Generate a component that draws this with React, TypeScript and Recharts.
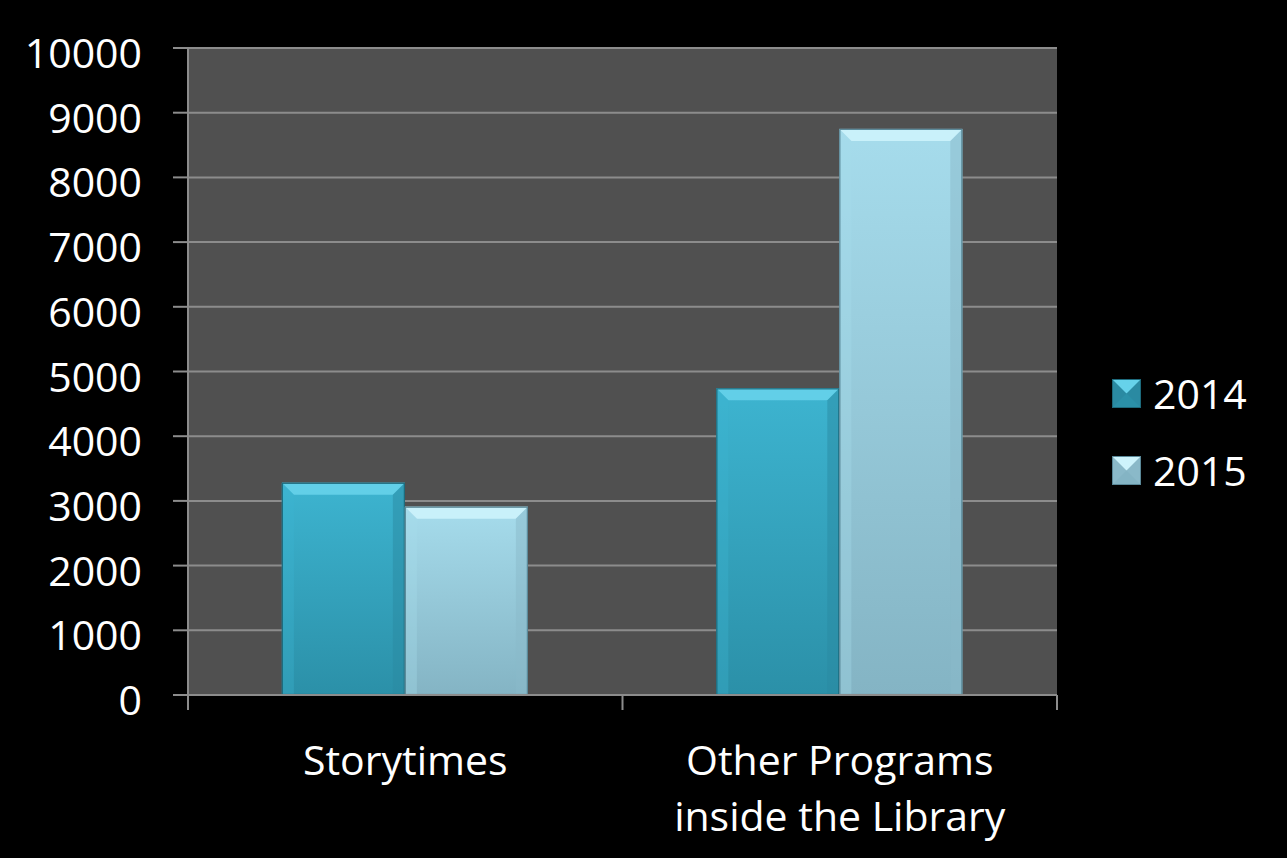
import React from "react"
import { BarChart, Bar, XAxis, YAxis, CartesianGrid, Legend } from "recharts"

const categories = ["Storytimes", "Other Programs\ninside the Library"]
const series2014 = [3280, 4740]
const series2015 = [2910, 8750]
const yTicks = [0, 1000, 2000, 3000, 4000, 5000, 6000, 7000, 8000, 9000, 10000]
const seriesNames = ["2014", "2015"]

const W = 1287
const H = 858
const MARGIN = { top: 48, right: 230, bottom: 33, left: 0 }
const Y_AXIS_W = 188
const PLOT_W = W - MARGIN.left - MARGIN.right - Y_AXIS_W
const FONT = "'Open Sans', sans-serif"
const AXIS_GRAY = "#8c8c8c"

const palette: Record<string, { top: string; bottom: string; bevel: string; edge: string; dark: string }> = {
  "2014": { top: "#3db4d0", bottom: "#2b90a8", bevel: "#66d2ea", edge: "#1d6a7c", dark: "#2a8aa2" },
  "2015": { top: "#a6dcec", bottom: "#84b4c4", bevel: "#cdf3fc", edge: "#5a8898", dark: "#8ab9c9" },
}

const data = categories.map((name, i) => ({
  name,
  "2014": series2014[i],
  "2015": series2015[i],
}))

function BevelBar(props: any) {
  const { x, y, width, height, dataKey } = props
  if (!height || height <= 0) return null
  const c = palette[dataKey]
  const b = Math.min(12, width / 4, height / 2)
  return (
    <g>
      <rect x={x} y={y} width={width} height={height} fill={`url(#grad${dataKey})`} />
      <polygon points={`${x},${y} ${x + width},${y} ${x + width - b},${y + b} ${x + b},${y + b}`} fill={c.bevel} opacity={0.9} />
      <polygon points={`${x},${y} ${x + b},${y + b} ${x + b},${y + height} ${x},${y + height}`} fill={c.top} opacity={0.35} />
      <polygon points={`${x + width},${y} ${x + width - b},${y + b} ${x + width - b},${y + height} ${x + width},${y + height}`} fill={c.dark} opacity={0.5} />
      <rect x={x + 0.5} y={y + 0.5} width={width - 1} height={height - 1} fill="none" stroke={c.edge} strokeWidth={1.2} />
    </g>
  )
}

function XTick(props: any) {
  const { x, y, payload, index } = props
  const half = PLOT_W / categories.length / 2
  const lines = String(payload.value).split("\n")
  return (
    <g>
      <line x1={x - half} y1={y} x2={x - half} y2={y + 15} stroke={AXIS_GRAY} strokeWidth={2} />
      {index === categories.length - 1 && (
        <line x1={x + half} y1={y} x2={x + half} y2={y + 15} stroke={AXIS_GRAY} strokeWidth={2} />
      )}
      {lines.map((l, i) => (
        <text key={i} x={x} y={y + 80 + i * 56} textAnchor="middle" fill="#ffffff" fontSize={41} fontFamily={FONT}>
          {l}
        </text>
      ))}
    </g>
  )
}

function YTick(props: any) {
  const { x, y, payload } = props
  return (
    <text x={x} y={y + 20} textAnchor="end" fill="#ffffff" fontSize={41} fontFamily={FONT}>
      {payload.value}
    </text>
  )
}

function LegendContent() {
  return (
    <div style={{ fontFamily: FONT }}>
      {seriesNames.map((s) => {
        const c = palette[s]
        return (
          <div key={s} style={{ display: "flex", alignItems: "center", height: 77 }}>
            <svg width={29} height={29} style={{ marginRight: 12 }}>
              <rect x={0} y={0} width={29} height={29} fill={c.dark} />
              <polygon points="0,0 29,0 14.5,14.5" fill={c.bevel} />
              <polygon points="0,29 29,29 14.5,14.5" fill={c.bottom} />
              <rect x={0.5} y={0.5} width={28} height={28} fill="none" stroke={c.edge} />
            </svg>
            <span style={{ color: "#ffffff", fontSize: 41, lineHeight: "41px" }}>{s}</span>
          </div>
        )
      })}
    </div>
  )
}

export default function App() {
  return (
    <div style={{ position: "fixed", left: 0, top: 0, width: W, height: H, background: "#000000" }}>
      <BarChart width={W} height={H} data={data} margin={MARGIN} barCategoryGap="21.6%" barGap={0}>
        <defs>
          {seriesNames.map((s) => (
            <linearGradient key={s} id={`grad${s}`} x1="0" y1="0" x2="0" y2="1">
              <stop offset="0%" stopColor={palette[s].top} />
              <stop offset="100%" stopColor={palette[s].bottom} />
            </linearGradient>
          ))}
        </defs>
        <CartesianGrid vertical={false} stroke={AXIS_GRAY} strokeWidth={2} fill="#505050" />
        <XAxis
          dataKey="name"
          height={130}
          axisLine={{ stroke: AXIS_GRAY, strokeWidth: 2 }}
          tickLine={false}
          tickSize={0}
          tickMargin={0}
          tick={<XTick />}
          interval={0}
        />
        <YAxis
          width={Y_AXIS_W}
          domain={[0, 10000]}
          ticks={yTicks}
          interval={0}
          axisLine={{ stroke: AXIS_GRAY, strokeWidth: 2 }}
          tickLine={{ stroke: AXIS_GRAY, strokeWidth: 2 }}
          tickSize={15}
          tickMargin={31}
          tick={<YTick />}
        />
        <Legend
          layout="vertical"
          align="center"
          verticalAlign="middle"
          wrapperStyle={{ left: 1112, top: 355, width: 170 }}
          content={<LegendContent />}
        />
        {seriesNames.map((s) => (
          <Bar key={s} dataKey={s} shape={<BevelBar />} isAnimationActive={false} />
        ))}
      </BarChart>
    </div>
  )
}
